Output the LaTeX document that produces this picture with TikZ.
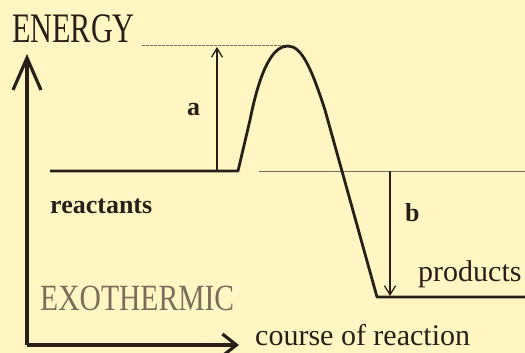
\documentclass[tikz,border=0pt]{standalone}
\usepackage{fontspec}
\setmainfont{Liberation Serif}
\usepackage{xcolor}
\usetikzlibrary{arrows.meta}
\definecolor{paper}{RGB}{255,246,196}
\definecolor{ink}{RGB}{40,32,24}
\definecolor{faint}{RGB}{120,110,90}

\begin{document}
\begin{tikzpicture}[x=1pt,y=-1pt,
axis/.style={draw=ink,line width=3.2pt},
level/.style={draw=ink,line width=2.8pt,line join=round},
guide/.style={draw=faint,line width=1pt},
gap/.style={draw=ink,line width=1.5pt,-{Straight Barb[length=9pt,width=11pt,line width=1.3pt]}},
lbl/.style={inner sep=0pt,anchor=base west,text=ink}]
\fill[paper] (0,0) rectangle (525,353);
\useasboundingbox (0,0) rectangle (525,353);

\coordinate (origin) at (27,345);
\coordinate (ytop) at (27,54);
\coordinate (xend) at (239,345);
\coordinate (rstart) at (50,171);
\coordinate (rend) at (238,171);
\coordinate (peak) at (288,46);
\coordinate (pstart) at (377,297);
\coordinate (pend) at (525,297);

\draw[axis,-{Straight Barb[length=32pt,width=28pt]}] (origin) -- (ytop);
\draw[axis,-{Straight Barb[length=14pt,width=22pt]}] (origin) -- (xend);

\draw[guide,dash pattern=on 3pt off 1pt] (142,46) -- (peak);
\draw[guide] (259,171) -- (525,171);

\draw[level] (rstart) -- (rend) -- (250,120)
.. controls (262,60) and (276,46) .. (peak)
.. controls (302,46) and (312,70) .. (325,110)
-- (pstart) -- (pend);

\draw[gap] (217,171) -- (217,47);
\draw[gap] (390,171) -- (390,296);

\node[lbl] (energy) at (12,43) {\fontsize{42}{42}\selectfont\scalebox{0.72}[1]{ENERGY}};
\node[lbl] (a) at (187,115) {\fontsize{26}{26}\selectfont\bfseries a};
\node[lbl] (b) at (405,221) {\fontsize{26}{26}\selectfont\bfseries b};
\node[lbl] (reactants) at (50,213) {\fontsize{26}{26}\selectfont\bfseries reactants};
\node[lbl] (products) at (418,281) {\fontsize{30}{30}\selectfont products};
\node[lbl,text=faint] (exo) at (40,310) {\fontsize{37}{37}\selectfont\scalebox{0.8}[1]{EXOTHERMIC}};
\node[lbl] (course) at (255,345) {\fontsize{30}{30}\selectfont course of reaction};
\end{tikzpicture}
\end{document}
